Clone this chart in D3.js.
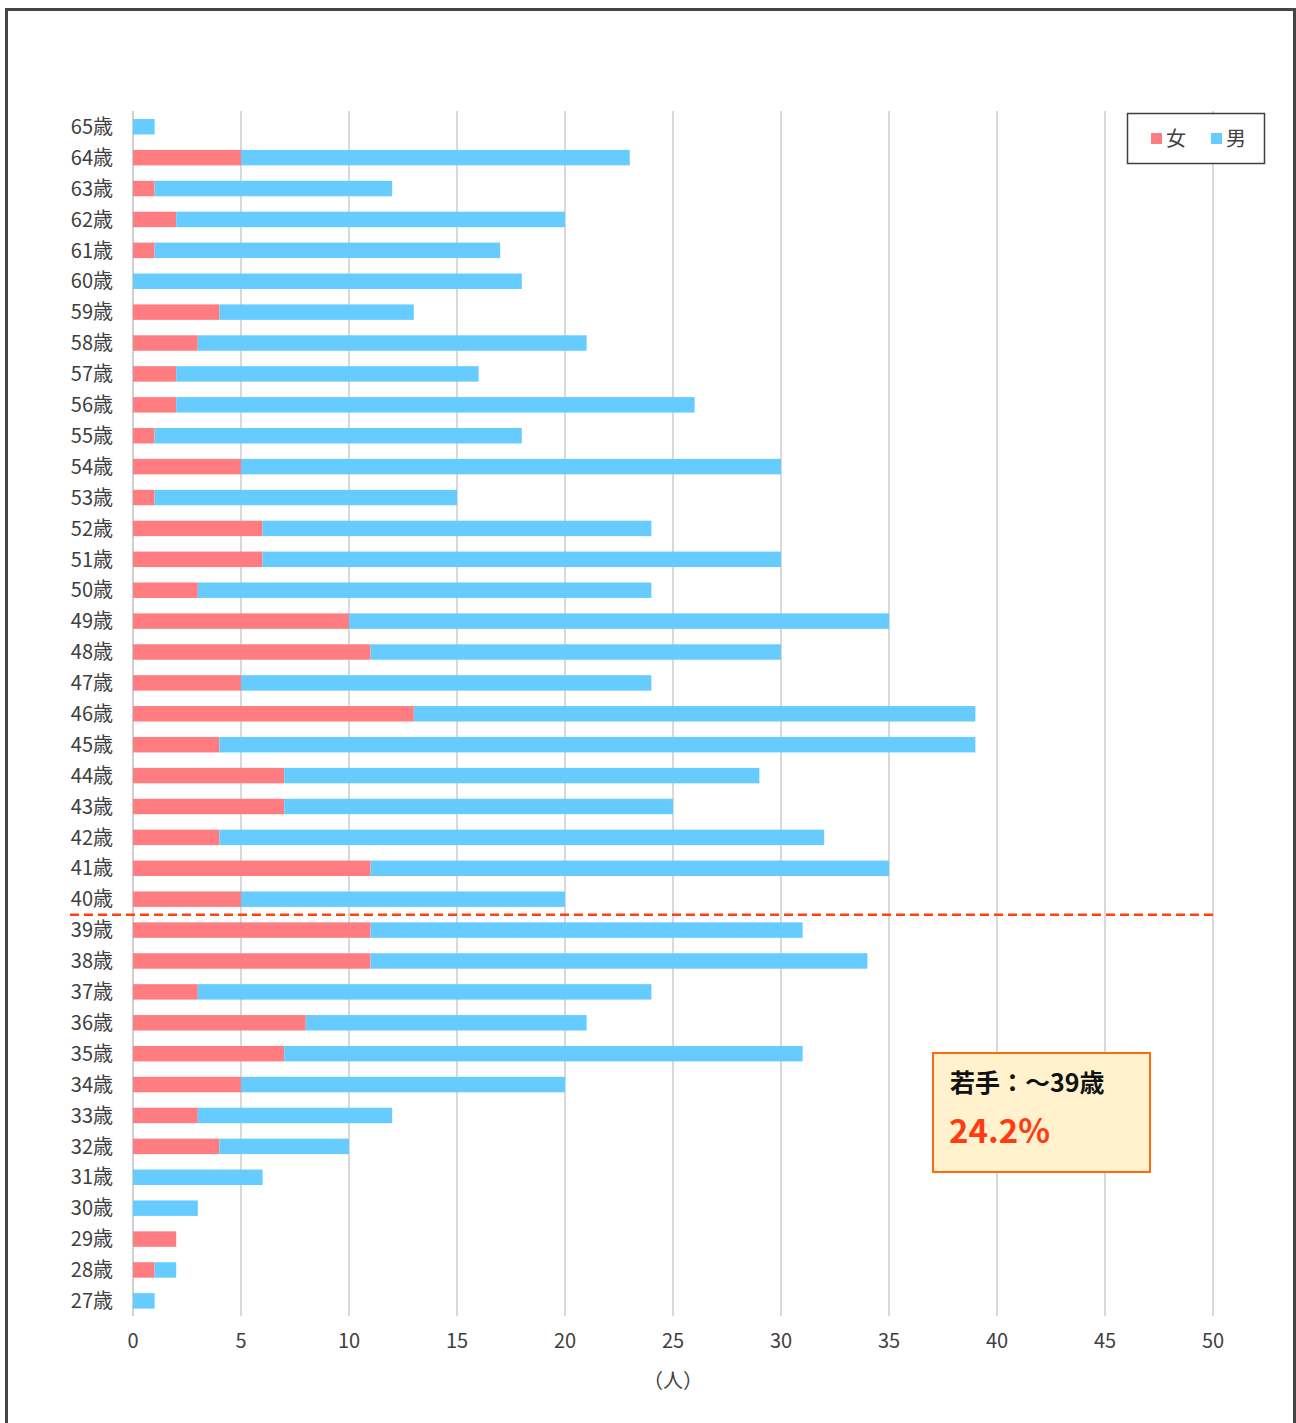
<!DOCTYPE html>
<html>
<head>
<meta charset="utf-8">
<script src="https://cdn.jsdelivr.net/npm/d3@7"></script>
<style>
  body { margin: 0; background: #fff; }
  svg { display: block; font-family: "Noto Sans CJK JP", "Noto Sans", sans-serif; }
</style>
</head>
<body>
<svg id="chart"></svg>
<script>
// ages from top (65) to bottom (27)
let ages = [65, 64, 63, 62, 61, 60, 59, 58, 57, 56, 55, 54, 53, 52, 51, 50, 49, 48, 47, 46, 45, 44, 43, 42, 41, 40,
            39, 38, 37, 36, 35, 34, 33, 32, 31, 30, 29, 28, 27];
let female = [0, 5, 1, 2, 1, 0, 4, 3, 2, 2, 1, 5, 1, 6, 6, 3, 10, 11, 5, 13, 4, 7, 7, 4, 11, 5,
              11, 11, 3, 8, 7, 5, 3, 4, 0, 0, 2, 1, 0];
let male = [1, 18, 11, 18, 16, 18, 9, 18, 14, 24, 17, 25, 14, 18, 24, 21, 25, 19, 19, 26, 35, 22, 18, 28, 24, 15,
            20, 23, 21, 13, 24, 15, 9, 6, 6, 3, 0, 1, 1];
let xTicks = [0, 5, 10, 15, 20, 25, 30, 35, 40, 45, 50];
let seriesNames = ['女', '男'];
let seriesColors = ['#FF7C80', '#66CCFF'];
let youngLimit = 39;
let noteTitle = '若手：～39歳';
let noteValue = '24.2%';

const W = 1296, H = 1423;
const svg = d3.select("#chart").attr("width", W).attr("height", H);

// outer frame
svg.append("rect")
    .attr("x", 6.5).attr("y", 9.5)
    .attr("width", 1288).attr("height", 1430)
    .attr("fill", "#fff")
    .attr("stroke", "#444")
    .attr("stroke-width", 3);

const x = d3.scaleLinear().domain([0, 50]).range([133, 1213]);
const y = d3.scaleBand().domain(ages).range([111.3, 1316.3]).paddingInner(0.5).paddingOuter(0.25);

// grid lines
svg.append("g")
    .selectAll("line")
    .data(xTicks)
    .join("line")
    .attr("x1", d => x(d)).attr("x2", d => x(d))
    .attr("y1", 111).attr("y2", 1316)
    .attr("stroke", d => d === 0 ? "#cfcfcf" : "#d9d9d9")
    .attr("stroke-width", 2);

// stacked bars
const rows = ages.map((a, i) => ({ age: a, f: female[i], m: male[i] }));
const bars = svg.append("g");
bars.selectAll("rect.f")
    .data(rows.filter(d => d.f > 0))
    .join("rect")
    .attr("class", "f")
    .attr("x", d => x(0))
    .attr("y", d => y(d.age))
    .attr("width", d => x(d.f) - x(0))
    .attr("height", y.bandwidth())
    .attr("fill", seriesColors[0]);
bars.selectAll("rect.m")
    .data(rows.filter(d => d.m > 0))
    .join("rect")
    .attr("class", "m")
    .attr("x", d => x(d.f))
    .attr("y", d => y(d.age))
    .attr("width", d => x(d.f + d.m) - x(d.f))
    .attr("height", y.bandwidth())
    .attr("fill", seriesColors[1]);

// category labels
svg.append("g")
    .selectAll("text")
    .data(ages)
    .join("text")
    .attr("x", 113)
    .attr("y", d => y(d) + y.bandwidth() / 2)
    .attr("dy", "0.36em")
    .attr("text-anchor", "end")
    .attr("font-size", 20)
    .attr("fill", "#404040")
    .text(d => d + "歳");

// x tick labels
svg.append("g")
    .selectAll("text")
    .data(xTicks)
    .join("text")
    .attr("x", d => x(d))
    .attr("y", 1341)
    .attr("dy", "0.36em")
    .attr("text-anchor", "middle")
    .attr("font-size", 20)
    .attr("fill", "#404040")
    .text(d => d);

svg.append("text")
    .attr("x", x(25))
    .attr("y", 1381)
    .attr("dy", "0.36em")
    .attr("text-anchor", "middle")
    .attr("font-size", 20)
    .attr("fill", "#404040")
    .text("（人）");

// dashed divider between 40 and 39
const divY = (y(youngLimit + 1) + y.bandwidth() + y(youngLimit)) / 2;
svg.append("line")
    .attr("x1", 70).attr("x2", x(50))
    .attr("y1", divY).attr("y2", divY)
    .attr("stroke", "#FF4010")
    .attr("stroke-width", 2.5)
    .attr("stroke-dasharray", "9,5");

// legend
const lg = svg.append("g");
lg.append("rect")
    .attr("x", 1127.5).attr("y", 113.5)
    .attr("width", 137).attr("height", 50)
    .attr("fill", "#fff")
    .attr("stroke", "#404040")
    .attr("stroke-width", 1.5);
const lgX = [1151, 1211];
seriesNames.forEach((n, i) => {
    lg.append("rect")
        .attr("x", lgX[i]).attr("y", 133)
        .attr("width", 11).attr("height", 11)
        .attr("fill", seriesColors[i]);
    lg.append("text")
        .attr("x", lgX[i] + 15).attr("y", 138.5)
        .attr("dy", "0.36em")
        .attr("font-size", 20)
        .attr("fill", "#404040")
        .text(n);
});

// note box
const nb = svg.append("g");
nb.append("rect")
    .attr("x", 933).attr("y", 1053)
    .attr("width", 217).attr("height", 119)
    .attr("fill", "#FFF2CC")
    .attr("stroke", "#FF6A10")
    .attr("stroke-width", 2);
nb.append("text")
    .attr("x", 950).attr("y", 1083)
    .attr("dy", "0.36em")
    .attr("font-size", 25)
    .attr("font-weight", "bold")
    .attr("fill", "#111")
    .text(noteTitle);
nb.append("text")
    .attr("x", 949).attr("y", 1131)
    .attr("dy", "0.36em")
    .attr("font-size", 33)
    .attr("font-weight", "bold")
    .attr("fill", "#FF3B0F")
    .text(noteValue);
</script>
</body>
</html>
